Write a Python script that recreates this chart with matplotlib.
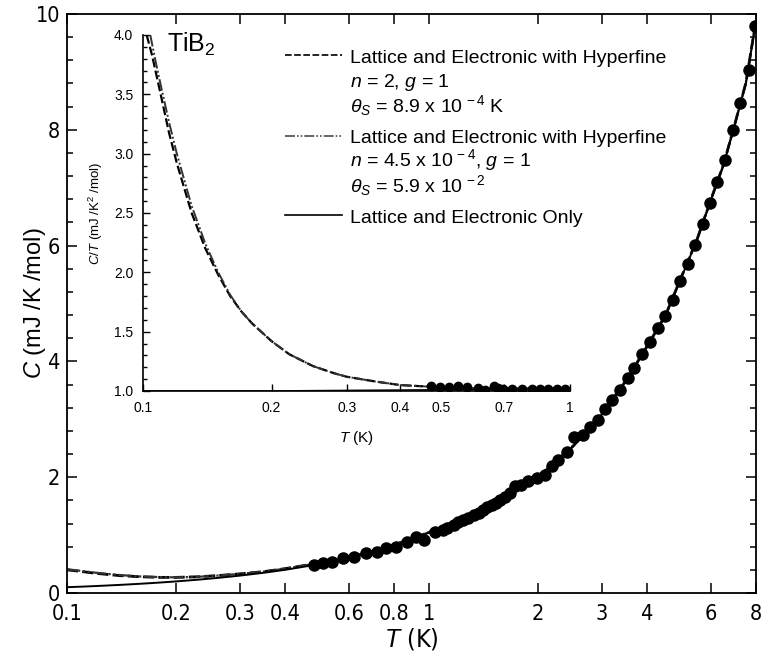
import matplotlib
matplotlib.use('Agg')
import matplotlib.pyplot as plt
from matplotlib import font_manager
from matplotlib.font_manager import FontProperties
from matplotlib.lines import Line2D
from matplotlib.ticker import FixedLocator, FixedFormatter, MultipleLocator, NullLocator

# --------------------------------------------------
# Fonts
# --------------------------------------------------
plt.rcParams['font.family'] = ['Liberation Sans', 'DejaVu Sans']
plt.rcParams['mathtext.fontset'] = 'custom'
plt.rcParams['mathtext.rm'] = 'Liberation Sans'
plt.rcParams['mathtext.it'] = 'Liberation Sans:italic'
plt.rcParams['mathtext.bf'] = 'Liberation Sans:bold'

names = {f.name for f in font_manager.fontManager.ttflist}
if 'Liberation Sans Narrow' in names:
    narrow = FontProperties(family='Liberation Sans Narrow', size=16.5)
else:
    narrow = FontProperties(family='DejaVu Sans', stretch='condensed', size=15.5)

# --------------------------------------------------
# Data
# --------------------------------------------------
# measured C (mJ/K/mol) vs T (K)
T_meas = [0.48, 0.51, 0.54, 0.58, 0.62, 0.67, 0.72, 0.76, 0.81, 0.87, 0.92, 0.97,
          1.04, 1.09, 1.12, 1.17, 1.20, 1.24, 1.28, 1.33, 1.37, 1.41, 1.45, 1.49,
          1.53, 1.57, 1.62, 1.67, 1.73, 1.80, 1.88, 1.99, 2.09, 2.19, 2.27, 2.40,
          2.51, 2.67, 2.78, 2.92, 3.06, 3.21, 3.37, 3.54, 3.69, 3.88, 4.08, 4.28,
          4.49, 4.71, 4.93, 5.18, 5.43, 5.70, 5.97, 6.25, 6.58, 6.90, 7.24, 7.63, 7.94]
C_meas = [0.48, 0.51, 0.54, 0.60, 0.63, 0.69, 0.71, 0.77, 0.80, 0.88, 0.97, 0.92,
          1.06, 1.09, 1.13, 1.17, 1.22, 1.26, 1.30, 1.35, 1.39, 1.43, 1.48, 1.52,
          1.56, 1.61, 1.66, 1.72, 1.84, 1.86, 1.93, 1.98, 2.04, 2.19, 2.30, 2.44,
          2.69, 2.73, 2.86, 2.99, 3.17, 3.33, 3.51, 3.71, 3.89, 4.13, 4.34, 4.57,
          4.78, 5.06, 5.38, 5.68, 6.01, 6.37, 6.74, 7.09, 7.48, 8.00, 8.47, 9.03, 9.80]

# model curves, main panel
T_fit = [0.1, 0.11, 0.12, 0.14, 0.16, 0.18, 0.2, 0.23, 0.26, 0.3, 0.35, 0.4, 0.5,
         0.6, 0.7, 0.8, 1.0, 1.2, 1.5, 2.0, 2.5, 3.0, 3.5, 4.0, 4.5, 5.0, 5.5,
         6.0, 6.5, 7.0, 7.5, 8.0]
C_only = [0.10, 0.11, 0.12, 0.14, 0.16, 0.18, 0.20, 0.23, 0.26, 0.30, 0.35, 0.40, 0.50,
          0.61, 0.71, 0.82, 1.04, 1.25, 1.55, 2.00, 2.53, 3.08, 3.66, 4.25, 4.79, 5.48, 6.10,
          6.78, 7.38, 8.10, 8.80, 9.88]
C_hf1 = [0.40, 0.37, 0.34, 0.30, 0.28, 0.27, 0.27, 0.28, 0.30, 0.33, 0.37, 0.42, 0.52,
         0.62, 0.72, 0.83, 1.05, 1.26, 1.56, 2.01, 2.54, 3.09, 3.67, 4.26, 4.80, 5.49, 6.11,
         6.79, 7.39, 8.11, 8.81, 9.89]
C_hf2 = [0.41, 0.38, 0.35, 0.31, 0.285, 0.275, 0.27, 0.28, 0.30, 0.33, 0.37, 0.42, 0.52,
         0.62, 0.72, 0.83, 1.05, 1.26, 1.56, 2.01, 2.54, 3.09, 3.67, 4.26, 4.80, 5.49, 6.11,
         6.79, 7.39, 8.11, 8.81, 9.89]

# inset: C/T (mJ/K^2/mol) vs T (K)
T_in_meas = [0.473, 0.496, 0.521, 0.548, 0.573, 0.608, 0.632, 0.664, 0.680, 0.698,
             0.733, 0.771, 0.813, 0.851, 0.890, 0.931, 0.973]
CT_in_meas = [1.039, 1.034, 1.031, 1.039, 1.034, 1.025, 1.006, 1.039, 1.028, 1.017,
              1.017, 1.017, 1.014, 1.014, 1.017, 1.020, 1.017]

T_in1 = [0.102, 0.105, 0.11, 0.115, 0.12, 0.13, 0.14, 0.15, 0.16, 0.17, 0.18, 0.2,
         0.22, 0.25, 0.28, 0.3, 0.35, 0.4, 0.45, 0.5, 0.7, 1.0]
CT_in1 = [4.00, 3.83, 3.50, 3.18, 2.92, 2.50, 2.20, 1.98, 1.80, 1.67, 1.57, 1.42,
          1.31, 1.21, 1.15, 1.12, 1.08, 1.05, 1.04, 1.03, 1.02, 1.02]
T_in2 = [0.104, 0.107, 0.11, 0.115, 0.12, 0.13, 0.14, 0.15, 0.16, 0.17, 0.18, 0.2,
         0.22, 0.25, 0.28, 0.3, 0.35, 0.4, 0.45, 0.5, 0.7, 1.0]
CT_in2 = [4.00, 3.78, 3.58, 3.27, 3.00, 2.56, 2.24, 2.00, 1.81, 1.67, 1.57, 1.42,
          1.31, 1.21, 1.15, 1.12, 1.08, 1.05, 1.04, 1.03, 1.02, 1.02]
T_in0 = [0.1, 0.2, 0.5, 1.0]
CT_in0 = [1.00, 1.00, 1.01, 1.02]

main_xticks = [0.1, 0.2, 0.3, 0.4, 0.6, 0.8, 1, 2, 3, 4, 6, 8]
main_xlabels = ['0.1', '0.2', '0.3', '0.4', '0.6', '0.8', '1', '2', '3', '4', '6', '8']
inset_xticks = [0.1, 0.2, 0.3, 0.4, 0.5, 0.7, 1]
inset_xlabels = ['0.1', '0.2', '0.3', '0.4', '0.5', '0.7', '1']

legend_lines = ['Lattice and Electronic with Hyperfine',
                r'$n$ = 2, $g$ = 1',
                r'$\theta_S$ = 8.9 x 10$^{\,-4}$ K',
                'Lattice and Electronic with Hyperfine',
                r'$n$ = 4.5 x 10$^{\,-4}$, $g$ = 1',
                r'$\theta_S$ = 5.9 x 10$^{\,-2}$',
                'Lattice and Electronic Only']

dash_hf1 = (0, (4, 1.5))
dash_hf2 = (0, (6, 1.2, 1, 1.2, 1, 1.2))

# --------------------------------------------------
# Main panel
# --------------------------------------------------
W, H = 761, 659
fig = plt.figure(figsize=(W / 100, H / 100), dpi=100)
ax = fig.add_axes([67 / W, 1 - 593 / H, (756 - 67) / W, (593 - 14) / H])

ax.plot(T_fit, C_hf1, color='black', lw=2.0, ls=dash_hf1)
ax.plot(T_fit, C_hf2, color='0.2', lw=1.6, ls=dash_hf2)
ax.plot(T_fit, C_only, color='black', lw=1.4)
ax.plot(T_meas, C_meas, 'o', color='black', ms=8, mec='black')

ax.set_xscale('log')
ax.set_xlim(0.1, 8)
ax.set_ylim(0, 10)
ax.xaxis.set_major_locator(FixedLocator(main_xticks))
ax.xaxis.set_major_formatter(FixedFormatter(main_xlabels))
ax.xaxis.set_minor_locator(NullLocator())
ax.yaxis.set_major_locator(MultipleLocator(2))
ax.yaxis.set_minor_locator(MultipleLocator(0.4))
ax.tick_params(which='both', direction='in', top=True, right=True, width=1.1)
ax.tick_params(which='major', length=7)
ax.tick_params(which='minor', length=4)
ax.tick_params(axis='x', which='major', pad=8)
ax.tick_params(axis='y', which='major', pad=5)
for lab in ax.get_xticklabels() + ax.get_yticklabels():
    lab.set_fontproperties(narrow)
for sp in ax.spines.values():
    sp.set_linewidth(1.3)

ax.set_xlabel(r'$T$ (K)', fontproperties=narrow, fontsize=18, labelpad=1)
ax.set_ylabel(r'$C$ (mJ /K /mol)', fontsize=17)
ax.yaxis.set_label_coords(-0.027, 0.5)

# legend: key lines next to the first text line of each entry
key_styles = [dict(color='black', lw=1.2, ls=(0, (4, 1.5))),
              dict(color='0.3', lw=1.2, ls=dash_hf2),
              dict(color='black', lw=1.2)]
key_rows = [55, 136, 215]
for st, yk in zip(key_styles, key_rows):
    fig.add_artist(Line2D([285 / W, 342 / W], [1 - yk / H, 1 - yk / H],
                          transform=fig.transFigure, **st))
text_baselines = [63, 87, 112, 143, 166, 192, 223]
for txt, yb in zip(legend_lines, text_baselines):
    fig.text(350 / W, 1 - yb / H, txt, fontsize=14, va='baseline', ha='left')

fig.text(167 / W, 1 - 52 / H, r'TiB$_2$', fontsize=18, va='baseline', ha='left')

# --------------------------------------------------
# Inset
# --------------------------------------------------
ax_in = fig.add_axes([143 / W, 1 - 391 / H, (570 - 143) / W, (391 - 35) / H])
ax_in.patch.set_alpha(0)
ax_in.plot(T_in0, CT_in0, color='black', lw=1.2)
ax_in.plot(T_in1, CT_in1, color='black', lw=1.6, ls=dash_hf1)
ax_in.plot(T_in2, CT_in2, color='0.2', lw=1.4, ls=dash_hf2)
ax_in.plot(T_in_meas, CT_in_meas, 'o', color='black', ms=6)

ax_in.set_xscale('log')
ax_in.set_xlim(0.1, 1)
ax_in.set_ylim(1.0, 4.0)
ax_in.spines['top'].set_visible(False)
ax_in.spines['right'].set_visible(False)
for sp in ('left', 'bottom'):
    ax_in.spines[sp].set_linewidth(1.2)
ax_in.xaxis.set_major_locator(FixedLocator(inset_xticks))
ax_in.xaxis.set_major_formatter(FixedFormatter(inset_xlabels))
ax_in.xaxis.set_minor_locator(NullLocator())
ax_in.yaxis.set_major_locator(MultipleLocator(0.5))
ax_in.yaxis.set_minor_locator(MultipleLocator(0.1))
ax_in.yaxis.set_major_formatter(matplotlib.ticker.FormatStrFormatter('%.1f'))
ax_in.tick_params(which='both', direction='in', top=False, right=False,
                  labelsize=10, width=1.0)
ax_in.tick_params(which='major', length=5, pad=7)
ax_in.tick_params(which='minor', length=3)
ax_in.set_xlabel(r'$T$ (K)', fontsize=11, labelpad=10)
ax_in.set_ylabel(r'$C/T$ (mJ /K$^2$ /mol)', fontsize=9.5)
ax_in.yaxis.set_label_coords(-0.088, 0.5)

fig.savefig('out.png', dpi=100)
